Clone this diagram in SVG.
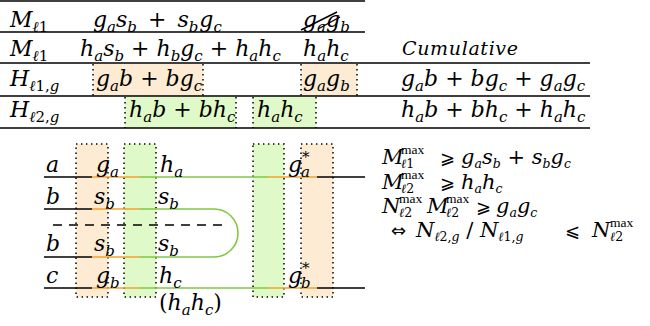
<svg xmlns="http://www.w3.org/2000/svg" width="650" height="326" viewBox="0 0 650 326">
<style>
text{font-family:"DejaVu Serif","Liberation Serif",serif;fill:#000}
.m{font-style:italic;font-size:22px}
.e{font-style:italic;font-size:21px}
.l{font-style:italic;font-size:22px}
.s{font-size:15px}
.se{font-size:12.5px}
.mx{font-family:"Liberation Serif",serif;font-style:normal;font-size:13.5px}
.up{font-style:normal}
.rel{font-family:"DejaVu Sans",sans-serif;font-style:normal;font-size:18px}
.rule{stroke:#000;stroke-width:1.4;fill:none}
.dot{stroke:#000;stroke-width:1.5;stroke-dasharray:1.4 3.6;fill:none}
.or{fill:#fdebd4}
.gr{fill:#e0f9c9}
.ln{stroke-width:1.6;fill:none}
.k{stroke:#000}
.o{stroke:#f2a42c}
.g{stroke:#80c845}
</style>

<g id="table">
  <rect class="or" x="93" y="64" width="110" height="32"/>
  <rect class="or" x="301" y="64" width="56" height="32"/>
  <rect class="gr" x="125" y="97" width="111" height="31"/>
  <rect class="gr" x="253" y="97" width="63" height="31"/>
  <path class="dot" d="M93,64V96M203,64V96M301,64V96M357,64V96M125,97V128M236,97V128M253,97V128M316,97V128"/>
  <path class="rule" d="M0,1H365M0,32H365M0,63H590M0,96H590M0,128H590"/>
  <text class="m" x="10" y="27">M<tspan class="s" dy="5">ℓ<tspan class="up">1</tspan></tspan></text>
  <text class="m" x="93" y="27">g<tspan class="s" dy="5">a</tspan><tspan dy="-5">s</tspan><tspan class="s" dy="5">b</tspan><tspan dy="-5" dx="4" class="up"> + </tspan><tspan dx="4">s</tspan><tspan class="s" dy="5">b</tspan><tspan dy="-5" dx="1">g</tspan><tspan class="s" dy="5">c</tspan></text>
  <text class="m" x="303" y="27">g<tspan class="s" dy="5">a</tspan><tspan dy="-5">g</tspan><tspan class="s" dy="5">b</tspan></text>
  <path class="rule" d="M301,30L337,12M318,29L340,17" stroke-width="1.1"/>
  <text class="m" x="10" y="56">M<tspan class="s" dy="5">ℓ<tspan class="up">1</tspan></tspan></text>
  <text class="m" x="80" y="56">h<tspan class="s" dy="5">a</tspan><tspan dy="-5">s</tspan><tspan class="s" dy="5">b</tspan><tspan dy="-5" class="up"> + </tspan><tspan>h</tspan><tspan class="s" dy="5">b</tspan><tspan dy="-5">g</tspan><tspan class="s" dy="5">c</tspan><tspan dy="-5" class="up"> + </tspan><tspan>h</tspan><tspan class="s" dy="5">a</tspan><tspan dy="-5">h</tspan><tspan class="s" dy="5">c</tspan></text>
  <text class="m" x="303" y="56">h<tspan class="s" dy="5">a</tspan><tspan dy="-5">h</tspan><tspan class="s" dy="5">c</tspan></text>
  <text x="402" y="55" font-style="italic" font-size="19" textLength="116" lengthAdjust="spacing">Cumulative</text>
  <text class="m" x="10" y="86">H<tspan class="s" dy="5">ℓ<tspan class="up">1,</tspan>g</tspan></text>
  <text class="m" x="96" y="86">g<tspan class="s" dy="5">a</tspan><tspan dy="-5">b</tspan><tspan class="up"> + </tspan><tspan>b</tspan><tspan>g</tspan><tspan class="s" dy="5">c</tspan></text>
  <text class="m" x="303" y="86">g<tspan class="s" dy="5">a</tspan><tspan dy="-5">g</tspan><tspan class="s" dy="5">b</tspan></text>
  <text class="m" x="401" y="86">g<tspan class="s" dy="5">a</tspan><tspan dy="-5">b</tspan><tspan class="up"> + </tspan><tspan>b</tspan><tspan>g</tspan><tspan class="s" dy="5">c</tspan><tspan dy="-5" class="up"> + </tspan><tspan>g</tspan><tspan class="s" dy="5">a</tspan><tspan dy="-5">g</tspan><tspan class="s" dy="5">c</tspan></text>
  <text class="m" x="10" y="117">H<tspan class="s" dy="5">ℓ<tspan class="up">2,</tspan>g</tspan></text>
  <text class="m" x="129" y="117">h<tspan class="s" dy="5">a</tspan><tspan dy="-5">b</tspan><tspan class="up"> + </tspan><tspan>b</tspan><tspan>h</tspan><tspan class="s" dy="5">c</tspan></text>
  <text class="m" x="257" y="117">h<tspan class="s" dy="5">a</tspan><tspan dy="-5">h</tspan><tspan class="s" dy="5">c</tspan></text>
  <text class="m" x="401" y="117">h<tspan class="s" dy="5">a</tspan><tspan dy="-5">b</tspan><tspan class="up"> + </tspan><tspan>b</tspan><tspan>h</tspan><tspan class="s" dy="5">c</tspan><tspan dy="-5" class="up"> + </tspan><tspan>h</tspan><tspan class="s" dy="5">a</tspan><tspan dy="-5">h</tspan><tspan class="s" dy="5">c</tspan></text>
</g>

<g id="boxes">
  <rect class="or" x="76" y="144" width="32" height="153"/>
  <rect class="gr" x="124" y="144" width="32" height="153"/>
  <rect class="gr" x="253" y="144" width="31" height="153"/>
  <rect class="or" x="301" y="144" width="32" height="153"/>
  <rect class="dot" x="76" y="144" width="32" height="153"/>
  <rect class="dot" x="124" y="144" width="32" height="153"/>
  <rect class="dot" x="253" y="144" width="31" height="153"/>
  <rect class="dot" x="301" y="144" width="32" height="153"/>
</g>

<g id="connectors">
  <path class="ln k" d="M44,177H92M317,177H365M44,209H92M44,257H92M44,288H92M317,288H365"/>
  <path class="ln o" d="M92,177H140M268,177H317M92,209H140M92,257H140M92,288H140M268,288H317"/>
  <path class="ln g" d="M140,177H268M140,288H268M140,209H214A24,24 0 0 1 214,257H140"/>
  <path class="ln k" d="M53,225H222" stroke-width="1.3" stroke-dasharray="9 7"/>
</g>

<g id="labels">
  <text class="l" x="46" y="172">a</text>
  <text class="l" x="46" y="204">b</text>
  <text class="l" x="46" y="251">b</text>
  <text class="l" x="46" y="283">c</text>
  <text class="l" x="96" y="172">g<tspan class="s" dy="5">a</tspan></text>
  <text class="l" x="94" y="204">s<tspan class="s" dy="5">b</tspan></text>
  <text class="l" x="94" y="251">s<tspan class="s" dy="5">b</tspan></text>
  <text class="l" x="96" y="283">g<tspan class="s" dy="5">b</tspan></text>
  <text class="l" x="160" y="172">h<tspan class="s" dy="5">a</tspan></text>
  <text class="l" x="158" y="204">s<tspan class="s" dy="5">b</tspan></text>
  <text class="l" x="158" y="251">s<tspan class="s" dy="5">b</tspan></text>
  <text class="l" x="159" y="283">h<tspan class="s" dy="5">c</tspan></text>
  <text class="l" x="288" y="172">g<tspan class="s" x="301" y="177">a</tspan><tspan class="s up" x="302" y="162">*</tspan></text>
  <text class="l" x="288" y="283">g<tspan class="s" x="301" y="288">b</tspan><tspan class="s up" x="302" y="273">*</tspan></text>
  <text class="l" x="159" y="310" font-size="21"><tspan class="up">(</tspan>h<tspan class="s" dy="5">a</tspan><tspan dy="-5">h</tspan><tspan class="s" dy="5">c</tspan><tspan class="up" dy="-5">)</tspan></text>
</g>

<g id="equations">
  <text class="e" x="382" y="164">M<tspan class="mx" x="401" y="154">max</tspan><tspan class="se" x="401" y="168">ℓ<tspan class="up">1</tspan></tspan></text>
  <text class="rel" x="440" y="164">⩾</text>
  <text class="e" x="461" y="164">g<tspan class="se" dy="4">a</tspan><tspan dy="-4">s</tspan><tspan class="se" dy="4">b</tspan><tspan dy="-4" class="up"> + </tspan><tspan>s</tspan><tspan class="se" dy="4">b</tspan><tspan dy="-4">g</tspan><tspan class="se" dy="4">c</tspan></text>

  <text class="e" x="382" y="189">M<tspan class="mx" x="401" y="179">max</tspan><tspan class="se" x="401" y="193">ℓ<tspan class="up">2</tspan></tspan></text>
  <text class="rel" x="440" y="189">⩾</text>
  <text class="e" x="461" y="189">h<tspan class="se" dy="4">a</tspan><tspan dy="-4">h</tspan><tspan class="se" dy="4">c</tspan></text>

  <text class="e" x="382" y="213">N<tspan class="mx" x="399" y="203">max</tspan><tspan class="se" x="399" y="217">ℓ<tspan class="up">2</tspan></tspan></text>
  <text class="e" x="427" y="213">M<tspan class="mx" x="446" y="203">max</tspan><tspan class="se" x="446" y="217">ℓ<tspan class="up">2</tspan></tspan></text>
  <text class="rel" x="476" y="213">⩾</text>
  <text class="e" x="496" y="213">g<tspan class="se" dy="4">a</tspan><tspan dy="-4">g</tspan><tspan class="se" dy="4">c</tspan></text>

  <text class="rel" x="391" y="237">⇔</text>
  <text class="e" x="416" y="237">N<tspan class="se" dy="4">ℓ<tspan class="up">2,</tspan>g</tspan><tspan dy="-4" class="up"> / </tspan><tspan>N</tspan><tspan class="se" dy="4">ℓ<tspan class="up">1,</tspan>g</tspan></text>
  <text class="rel" x="565" y="237">⩽</text>
  <text class="e" x="592" y="237">N<tspan class="mx" x="610" y="227">max</tspan><tspan class="se" x="610" y="241">ℓ<tspan class="up">2</tspan></tspan></text>
</g>
</svg>
